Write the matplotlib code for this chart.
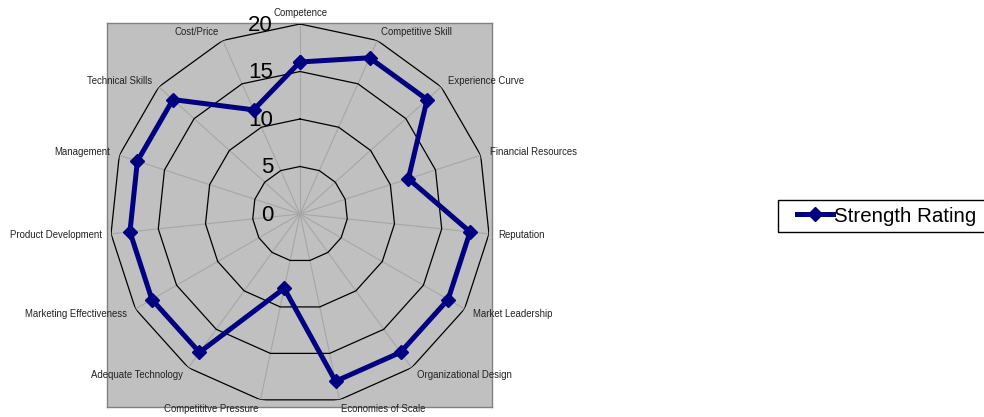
import numpy as np
import matplotlib
matplotlib.use("Agg")
import matplotlib.pyplot as plt
from matplotlib.patches import Rectangle
from matplotlib.lines import Line2D

plt.rcParams['font.family'] = ['Liberation Sans', 'DejaVu Sans']

# data
categories = ['Competence', 'Competitive Skill', 'Experience Curve', 'Financial Resources',
              'Reputation', 'Market Leadership', 'Organizational Design', 'Economies of Scale',
              'Competititve Pressure', 'Adequate Technology', 'Marketing Effectiveness',
              'Product Development', 'Management', 'Technical Skills', 'Cost/Price']
strength = [16, 18, 18, 12, 18, 18, 18, 18, 8, 18, 18, 18, 18, 18, 12]
ring_levels = [5, 10, 15, 20]
tick_labels = [0, 5, 10, 15, 20]
series_name = 'Strength Rating'

W, H = 984, 417
fig = plt.figure(figsize=(W / 100, H / 100), dpi=100)

# gray plot area (separate background axes)
bg = fig.add_axes([107 / W, 1 - 407 / H, 385 / W, 384 / H], zorder=0)
bg.set_facecolor('#c0c0c0')
bg.set_xticks([])
bg.set_yticks([])
for sp in bg.spines.values():
    sp.set_color('#808080')
    sp.set_linewidth(1)

cx, cy, R = 300, 214, 190
ax = fig.add_axes([(cx - R) / W, 1 - (cy + R) / H, 2 * R / W, 2 * R / H],
                  projection='polar', zorder=1)
ax.set_theta_zero_location('N')
ax.set_theta_direction(-1)
ax.set_ylim(0, 20)
ax.set_axis_off()
ax.patch.set_visible(False)

n = len(categories)
theta = np.arange(n) * 2 * np.pi / n
theta_c = np.append(theta, theta[0])

# spokes
for t in theta:
    ax.plot([t, t], [0, 20], color='#a6a6a6', lw=0.8, zorder=1)

# polygonal rings
for lv in ring_levels:
    ax.plot(theta_c, [lv] * (n + 1), color='black', lw=0.9, zorder=2)

# series
vals = np.append(strength, strength[0])
ax.plot(theta_c, vals, color='#000080', lw=3.6, marker='D', ms=6.8,
        mec='#000080', mew=1, zorder=4, clip_on=False)

# radial tick labels
for v in tick_labels:
    ax.annotate(str(v), xy=(0, v), xytext=(-27, -1), textcoords='offset pixels',
                ha='right', va='center', fontsize=16, color='black', zorder=3,
                annotation_clip=False)

# category labels
for t, lab in zip(theta, categories):
    s = np.sin(t)
    if s > 0.1:
        ha = 'left'
    elif s < -0.1:
        ha = 'right'
    else:
        ha = 'center'
    if np.cos(t) > 0.99:
        ax.text(t, 20.6, lab, ha=ha, va='bottom', fontsize=6.9, color='#222222')
    else:
        ax.text(t, 21, lab, ha=ha, va='center', fontsize=6.9, color='#222222')

# legend box runs off the right edge, as in the reference
fig.patches.append(Rectangle((778 / W, 1 - 232 / H), 220 / W, 32 / H,
                             transform=fig.transFigure, facecolor='white',
                             edgecolor='black', linewidth=1, zorder=2))
handle = Line2D([], [], color='#000080', lw=3.6, marker='D', ms=6.8, mec='#000080')
leg = fig.legend([handle], [series_name], loc='center left',
                 bbox_to_anchor=(797 / W, 1 - 216 / H), fontsize=14.8,
                 frameon=False, borderpad=0, handlelength=1.75,
                 handletextpad=0.05, borderaxespad=0)
leg.set_zorder(3)

fig.savefig('out.png', dpi=100)
